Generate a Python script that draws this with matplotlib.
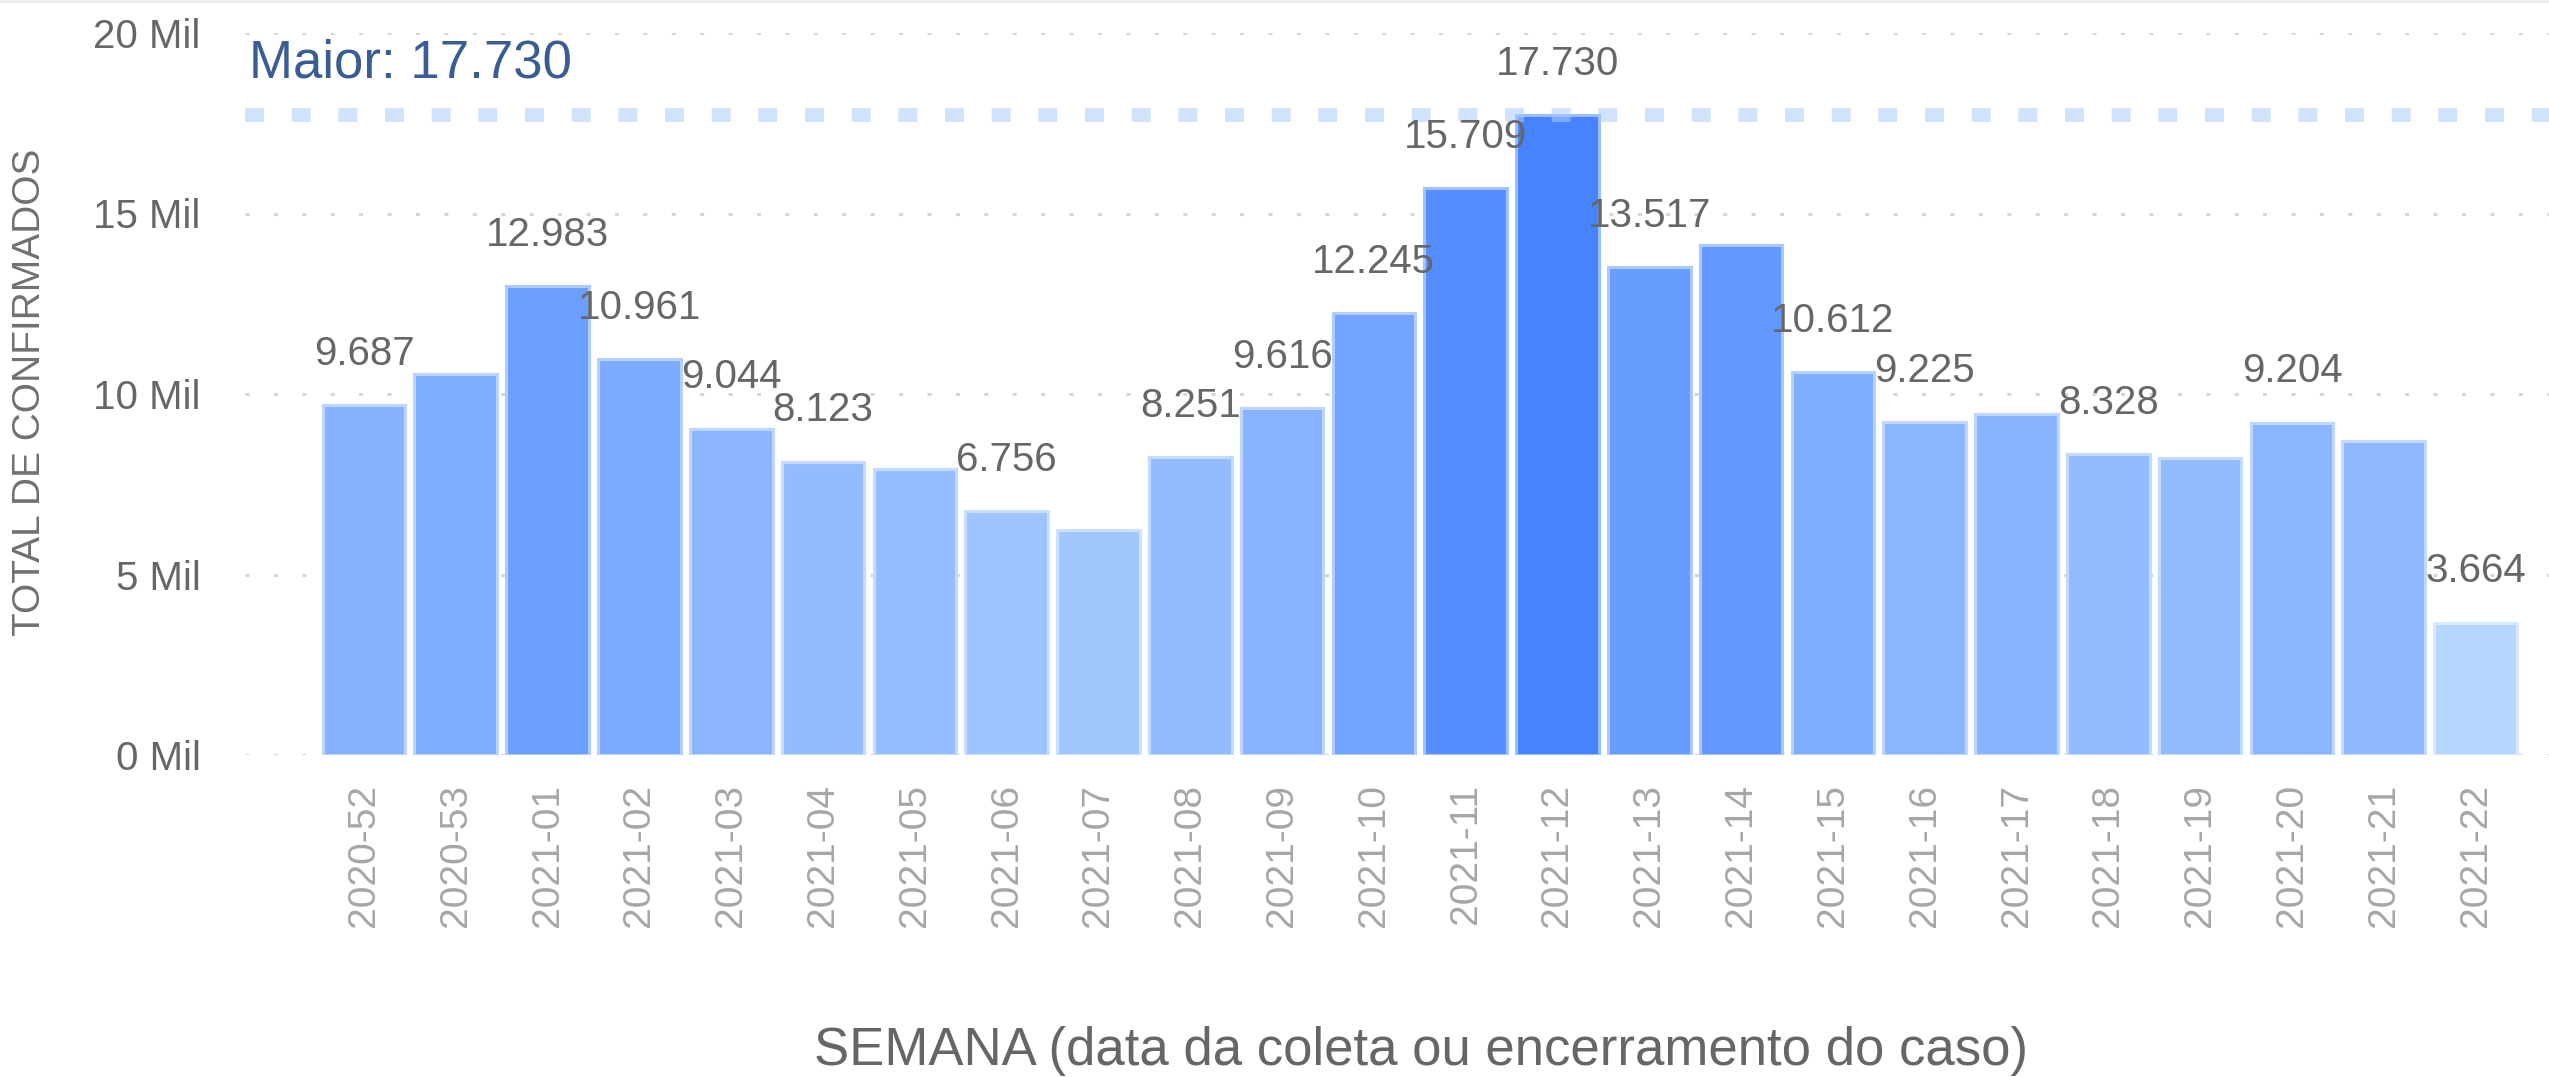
import numpy as np
import matplotlib.pyplot as plt
from matplotlib.lines import Line2D

semanas = ["2020-52", "2020-53", "2021-01", "2021-02", "2021-03", "2021-04",
           "2021-05", "2021-06", "2021-07", "2021-08", "2021-09", "2021-10",
           "2021-11", "2021-12", "2021-13", "2021-14", "2021-15", "2021-16",
           "2021-17", "2021-18", "2021-19", "2021-20", "2021-21", "2021-22"]
confirmados = [9687, 10560, 12983, 10961, 9044, 8123, 7935, 6756, 6240, 8251,
               9616, 12245, 15709, 17730, 13517, 14120, 10612, 9225, 9445,
               8328, 8220, 9204, 8690, 3664]
# power bi hides labels that would overlap
mostrar_rotulo = [1, 0, 1, 1, 1, 1, 0, 1, 0, 1, 1, 1, 1, 1, 1, 0, 1, 1, 0, 1,
                  0, 1, 0, 1]
yticks = [0, 5000, 10000, 15000, 20000]
ytick_labels = ["0 Mil", "5 Mil", "10 Mil", "15 Mil", "20 Mil"]

plt.rcParams['font.family'] = ['Liberation Sans', 'DejaVu Sans']

vals = np.array(confirmados)
x = np.arange(len(semanas))

# colour scale light -> dark blue by value
c_min = np.array([183, 214, 255]) / 255
c_max = np.array([69, 131, 255]) / 255
frac = (vals - vals.min()) / (vals.max() - vals.min())
cores = [tuple(c_min + (c_max - c_min) * f) for f in frac]
bordas = [tuple(np.array(c) * 0.55 + 0.45) for c in cores]

fig = plt.figure(figsize=(25.49, 10.77), dpi=100)
ax = fig.add_axes([245 / 2549, 322 / 1077, 1 - 245 / 2549, 722 / 1077])

for yt in yticks:
    ax.axhline(yt, color='#d6d6d6', lw=2.2, dashes=(1.3, 8), zorder=0)

ax.bar(x, vals, width=0.9, color=cores, edgecolor=bordas, linewidth=2.2, zorder=2)

ax.axhline(vals.max(), color=(170 / 255, 205 / 255, 250 / 255), alpha=0.55, lw=10,
           dashes=(1.36, 2.0), solid_capstyle='butt', dash_capstyle='butt', zorder=3)
ax.text(-1.25, 18780, f"Maior: {vals.max():,}".replace(',', '.'), color='#3a5c94',
        fontsize=38, va='baseline', ha='left', zorder=4)

for xi, v, m in zip(x, vals, mostrar_rotulo):
    if m:
        ax.annotate(f"{v:,}".replace(',', '.'), (xi, v), xytext=(0, 29),
                    textcoords='offset points', ha='center', va='baseline',
                    fontsize=29, color='#666666', zorder=5)

ax.set_xlim(-1.296, 23.8)
ax.set_ylim(0, 20000)
ax.set_yticks(yticks)
ax.set_yticklabels(ytick_labels, fontsize=29, color='#666666')
ax.set_xticks(x)
ax.set_xticklabels(semanas, rotation=90, fontsize=28, color='#a6a6a6')
ax.tick_params(axis='y', length=0, pad=32)
ax.tick_params(axis='x', length=0, pad=21)
for s in ax.spines.values():
    s.set_visible(False)

fig.text(30 / 2549, 1 - 392 / 1077, "TOTAL DE CONFIRMADOS", rotation=90,
         ha='center', va='center', fontsize=28, color='#707070')
fig.text(1421 / 2549, 12 / 1077, "SEMANA (data da coleta ou encerramento do caso)",
         ha='center', va='baseline', fontsize=38, color='#666666')

fig.add_artist(Line2D([0, 1], [0.999, 0.999], color='#ececec', lw=2,
                      transform=fig.transFigure))

fig.savefig("out.png", dpi=100)
